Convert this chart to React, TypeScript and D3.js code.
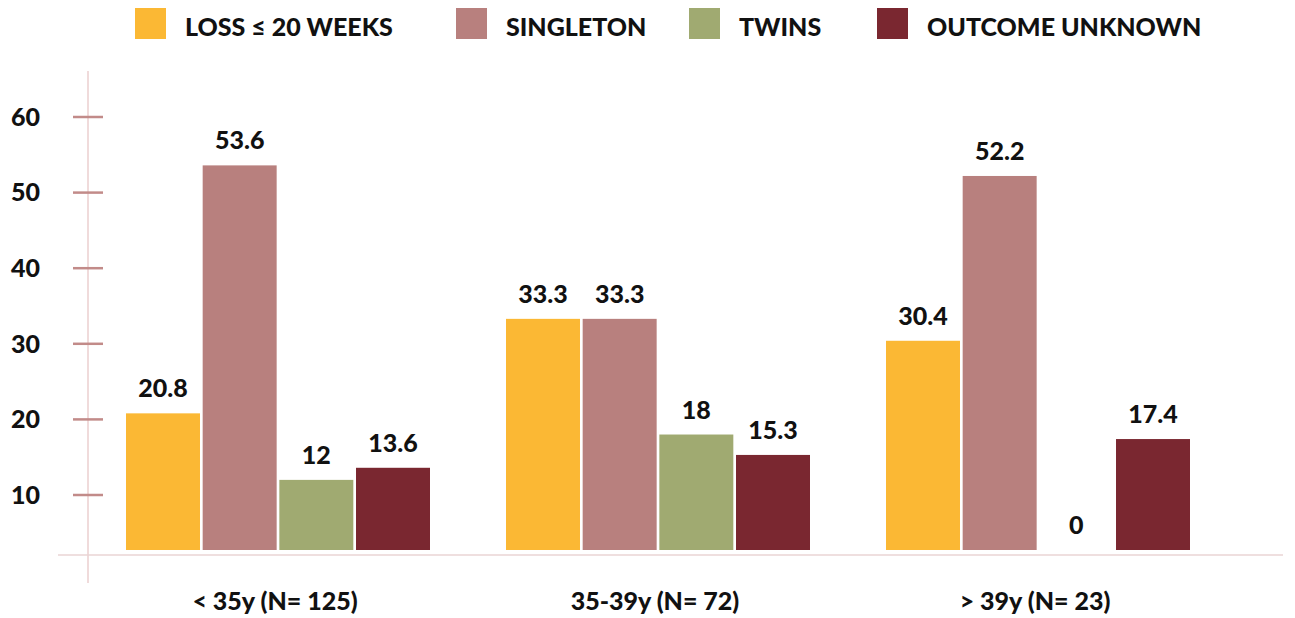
import React from 'react';
import * as d3 from 'd3';

// Age groups and outcome percentages
const categories = ['< 35y (N= 125)', '35-39y (N= 72)', '> 39y (N= 23)'];
const seriesNames = ['LOSS ≤ 20 WEEKS', 'SINGLETON', 'TWINS', 'OUTCOME UNKNOWN'];
const lossValues = [20.8, 33.3, 30.4];
const singletonValues = [53.6, 33.3, 52.2];
const twinsValues = [12, 18, 0];
const unknownValues = [13.6, 15.3, 17.4];
const yTicks = [10, 20, 30, 40, 50, 60];

const seriesColors = ['#FBB834', '#B8807E', '#A0AA71', '#7A2730'];
const legendX = [135, 456, 689, 877];

const W = 1295;
const H = 618;
const FONT = 'Lato, "Open Sans", sans-serif';

export default function App() {
  const table = [lossValues, singletonValues, twinsValues, unknownValues];

  const x0 = d3.scaleBand<string>()
    .domain(categories)
    .range([88, 1228])
    .paddingInner(0.2)
    .paddingOuter(0.1);

  const x1 = d3.scaleBand<string>()
    .domain(seriesNames)
    .range([0, x0.bandwidth()])
    .paddingInner(0.035);

  const y = d3.scaleLinear().domain([0, 60]).range([570.6, 117]);
  const baseY = 550;

  return (
    <svg width={W} height={H} style={{ position: 'absolute', left: 0, top: 0 }}>
      {/* legend */}
      {seriesNames.map((name, i) => (
        <g key={name} transform={`translate(${legendX[i]},0)`}>
          <rect x={0} y={8} width={31} height={31} fill={seriesColors[i]} />
          <text x={50} y={36} fontFamily={FONT} fontWeight={900} fontSize={25} fill="#111">
            {name}
          </text>
        </g>
      ))}

      {/* axes */}
      <line x1={88} x2={88} y1={71} y2={583} stroke="#EBCFCF" strokeWidth={1.5} />
      <line x1={58} x2={1283} y1={555} y2={555} stroke="#EAD5D5" strokeWidth={1.5} />
      {yTicks.map(t => (
        <g key={t}>
          <line x1={73} x2={103} y1={y(t)} y2={y(t)} stroke="#C28B89" strokeWidth={2.5} />
          <text x={40} y={y(t)} dy="0.35em" textAnchor="end" fontFamily={FONT} fontWeight={900} fontSize={25} fill="#111">
            {t}
          </text>
        </g>
      ))}

      {/* bars */}
      {categories.map((cat, ci) => (
        <g key={cat} transform={`translate(${x0(cat)},0)`}>
          {seriesNames.map((s, si) => {
            const v = table[si][ci];
            const top = Math.min(y(v), baseY);
            return (
              <g key={s}>
                {v > 0 && (
                  <rect x={x1(s)} y={top} width={x1.bandwidth()} height={baseY - top} fill={seriesColors[si]} />
                )}
                <text
                  x={(x1(s) as number) + x1.bandwidth() / 2}
                  y={top - 16}
                  textAnchor="middle"
                  fontFamily={FONT}
                  fontWeight={900}
                  fontSize={25}
                  fill="#111"
                >
                  {v}
                </text>
              </g>
            );
          })}
          <text
            x={x0.bandwidth() / 2 - 3}
            y={610}
            textAnchor="middle"
            fontFamily={FONT}
            fontWeight={900}
            fontSize={25}
            fill="#111"
          >
            {cat}
          </text>
        </g>
      ))}
    </svg>
  );
}
